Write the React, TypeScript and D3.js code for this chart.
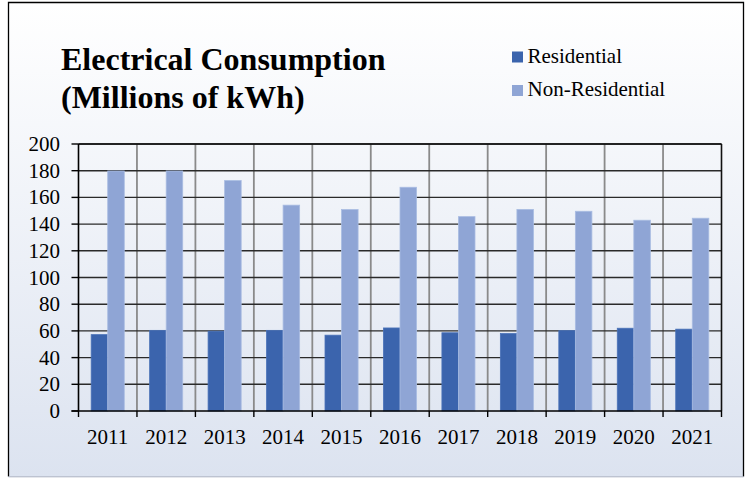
import React from "react";
import * as d3 from "d3";

const years = ["2011","2012","2013","2014","2015","2016","2017","2018","2019","2020","2021"];
const residential = [57.2, 60.4, 59.8, 60.4, 56.8, 62.2, 58.6, 58.0, 60.2, 62.0, 61.3];
const nonResidential = [179.8, 179.8, 172.6, 154.2, 150.9, 167.6, 145.6, 151.0, 149.6, 142.9, 144.4];
const yTicks = [0, 20, 40, 60, 80, 100, 120, 140, 160, 180, 200];
const seriesNames = ["Residential", "Non-Residential"];
const colors = ["#3b64ad", "#8fa5d5"];

const W = 749, H = 478;
const plot = { left: 78.5, right: 721.5, top: 144, bottom: 411 };

export default function App() {
  const x = d3.scaleBand<string>().domain(years).range([plot.left, plot.right]).paddingInner(0).paddingOuter(0);
  const y = d3.scaleLinear().domain([0, 200]).range([plot.bottom, plot.top]);
  const bw = x.bandwidth() * 0.283;
  const series = [residential, nonResidential];
  const font = "'Liberation Serif', 'Times New Roman', Times, serif";
  const boundaries = d3.range(years.length + 1).map(i => plot.left + i * x.bandwidth());

  return (
    <svg width={W} height={H} style={{ position: "fixed", left: 0, top: 0, fontFamily: font }}>
      <defs>
        <linearGradient id="bg" x1="0" y1="0" x2="0" y2="1">
          <stop offset="0" stopColor="#ffffff" />
          <stop offset="1" stopColor="#dce3f0" />
        </linearGradient>
      </defs>
      <rect x={0} y={0} width={W} height={H} fill="#ffffff" />
      <rect x={8.5} y={2.5} width={735} height={474} fill="url(#bg)" stroke="none" />
      <path d={`M8.5,476.5 V2.5 H743.5 V476.5`} fill="none" stroke="#000" strokeWidth={1.3} />
      <line x1={8.5} x2={743.5} y1={476.8} y2={476.8} stroke="#a8b0c0" strokeWidth={1} />

      <text x={61} y={70} fontSize={32} fontWeight="bold" fill="#000">Electrical Consumption</text>
      <text x={61} y={107.5} fontSize={32} fontWeight="bold" fill="#000">(Millions of kWh)</text>

      {seriesNames.map((n, i) => (
        <g key={n}>
          <rect x={512} y={51.5 + i * 33.5} width={11} height={11} fill={colors[i]} />
          <text x={527.5} y={62.5 + i * 33.5} fontSize={21} fill="#000">{n}</text>
        </g>
      ))}

      {boundaries.slice(1, -1).map((bx, i) => (
        <line key={"v" + i} x1={bx} x2={bx} y1={plot.top} y2={plot.bottom} stroke="#8a8a8a" strokeWidth={1.8} />
      ))}
      {yTicks.slice(1).map(t => (
        <line key={"h" + t} x1={plot.left} x2={plot.right} y1={y(t)} y2={y(t)} stroke="#2a2a2a" strokeWidth={1.4} />
      ))}

      {years.map((yr, i) => {
        const cx = (x(yr) as number) + x.bandwidth() / 2;
        return series.map((s, j) => (
          <rect key={yr + j} x={cx - bw + j * bw} y={y(s[i])} width={bw} height={plot.bottom - y(s[i])}
            fill={colors[j]} stroke={j === 0 ? "#4a72b8" : "#a9bce2"} strokeWidth={0.8} />
        ));
      })}

      <line x1={plot.right} x2={plot.right} y1={plot.top} y2={plot.bottom} stroke="#111" strokeWidth={1.6} />
      <line x1={plot.left} x2={plot.right} y1={plot.top} y2={plot.top} stroke="#111" strokeWidth={1.6} />

      <line x1={plot.left} x2={plot.left} y1={plot.top} y2={plot.bottom} stroke="#000" strokeWidth={1.6} />
      <line x1={plot.left - 7} x2={plot.right} y1={plot.bottom} y2={plot.bottom} stroke="#000" strokeWidth={1.6} />
      {yTicks.map(t => (
        <g key={"yt" + t}>
          <line x1={plot.left - 7} x2={plot.left} y1={y(t)} y2={y(t)} stroke="#000" strokeWidth={1.4} />
          <text x={60} y={y(t) + 7} fontSize={21} textAnchor="end" fill="#000">{t}</text>
        </g>
      ))}
      {boundaries.map((bx, i) => (
        <line key={"xt" + i} x1={bx} x2={bx} y1={plot.bottom} y2={plot.bottom + 6} stroke="#000" strokeWidth={1.4} />
      ))}
      {years.map(yr => (
        <text key={"xl" + yr} x={(x(yr) as number) + x.bandwidth() / 2} y={443.5} fontSize={21} textAnchor="middle" fill="#000">{yr}</text>
      ))}
    </svg>
  );
}
